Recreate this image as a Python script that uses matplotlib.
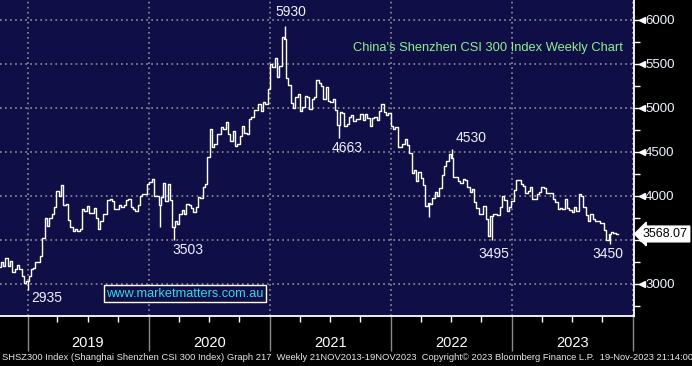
import matplotlib
matplotlib.use("Agg")
import matplotlib.pyplot as plt
import matplotlib.dates as mdates
import matplotlib.transforms as mtransforms
from matplotlib.ticker import MultipleLocator
import pandas as pd

plt.rcParams["font.family"] = ["Liberation Sans", "DejaVu Sans"]

# weekly closes, CSI 300
closes = [
    3440,
    # 2018 Oct-Dec
    3190, 3250, 3200, 3290, 3200, 3260, 3140, 3170, 3210, 3170, 3090, 3010,
    # 2019
    3035, 3095, 3170, 3185,
    3250, 3250, 3320, 3520,
    3750, 3660, 3750, 3800, 3870,
    4060, 4000, 4120, 3900,
    3910, 3730, 3650, 3600, 3630,
    3600, 3630, 3850, 3830,
    3890, 3810, 3810, 3860,
    3750, 3630, 3710, 3800, 3800,
    3950, 3970, 3940, 3850,
    3850, 3900, 3870, 3900,
    3950, 3970, 3880, 3850, 3830,
    3900, 4000, 4020, 4020,
    # 2020
    4140, 4160, 4190, 4000, 4000,
    3900, 3990, 4150, 3940,
    4140, 3950, 3650, 3720,
    3680, 3800, 3840, 3790,
    3910, 3900, 3860, 3820, 3870,
    3990, 3980, 4100, 4140,
    4440, 4760, 4560, 4590, 4700,
    4700, 4780, 4760, 4840,
    4700, 4630, 4740, 4570,
    4590, 4680, 4790, 4720, 4700,
    4880, 4900, 4980, 4980,
    5040, 4960, 5070, 5040,
    # 2021
    5210, 5500, 5460, 5570, 5350,
    5480, 5810, 5780, 5340,
    5260, 5060, 5000, 5130,
    5160, 4970, 5010, 5140, 5120,
    4990, 5100, 5130, 5320,
    5280, 5250, 5100, 5240,
    5080, 5070, 5100, 4980, 4810,
    4950, 4940, 4800, 4820,
    4900, 4920, 4850, 4870,
    4870, 4930, 4860, 4930, 4890,
    4800, 4890, 4900, 4860,
    4960, 5050, 4950, 4920, 4940,
    # 2022
    4800, 4760, 4780, 4560,
    4560, 4590, 4650, 4580,
    4490, 4260, 4300, 4170,
    4270, 4200, 4130, 3890, 3920,
    3910, 3980, 4040, 4000,
    4090, 4240, 4340, 4400,
    4480, 4430, 4220, 4210, 4170,
    4150, 4190, 4180, 4100,
    4050, 4080, 3930, 3860, 3800,
    3800, 3890, 3740, 3540,
    3770, 3790, 3800, 3780,
    3870, 4000, 3950, 3830, 3870,
    # 2023
    3940, 4070, 4180, 4180,
    4140, 4110, 4030, 4060,
    4100, 3970, 3960, 4020, 4050,
    4100, 4090, 4030, 4030,
    4030, 3960, 3930, 3850,
    3860, 3850, 3960, 3860, 3840,
    3820, 3880, 3830, 4020,
    4000, 3880, 3780, 3710,
    3800, 3740, 3710, 3720, 3690,
    3690, 3610, 3500, 3570,
    3590, 3580, 3568.07,
]
weeks = pd.date_range("2018-10-05", "2023-11-17", freq="W-FRI")
assert len(weeks) == len(closes), (len(weeks), len(closes))

# intraweek extremes that stick out of the weekly steps
ext_weeks = ["2019-01-04", "2020-02-07", "2020-03-20", "2021-02-19",
             "2021-07-30", "2022-04-29", "2022-07-08", "2022-11-04", "2023-10-27"]
ext_vals = [2935, 3650, 3503, 5930, 4663, 3760, 4530, 3495, 3450]

labels = ["5930", "4663", "4530", "2935", "3503", "3495", "3450"]
label_dates = ["2021-03-04", "2021-08-22", "2022-08-30", "2019-02-27",
               "2020-04-30", "2022-11-08", "2023-10-18"]
label_vals = [6085, 4540, 4659, 2846, 3386, 3346, 3346]

years = [2019, 2020, 2021, 2022, 2023]
last_price = 3568.07

navy = "#0f0e47"
fig = plt.figure(figsize=(6.92, 3.66), dpi=100, facecolor="black")
ax = fig.add_axes([0, 50 / 366, 634 / 692, 316 / 366])
ax.set_facecolor(navy)

s = pd.Series(closes, index=weeks)
ax.step(weeks, closes, where="pre", color="white", lw=1.0, zorder=3)
ext_idx = pd.to_datetime(ext_weeks)
ax.vlines(ext_idx - pd.Timedelta(days=3), ext_vals, s[ext_idx].values,
          color="white", lw=1.0, zorder=3)

ax.set_xlim(pd.Timestamp("2018-10-10"), pd.Timestamp("2024-01-04"))
ax.set_ylim(2636, 6227)

# axes / spines
for side in ["top", "left"]:
    ax.spines[side].set_visible(False)
for side in ["right", "bottom"]:
    ax.spines[side].set_color("white")
    ax.spines[side].set_linewidth(1.3)

ax.yaxis.tick_right()
ax.yaxis.set_major_locator(MultipleLocator(500))
ax.yaxis.set_minor_locator(MultipleLocator(250))
ax.tick_params(axis="y", which="major", length=5, width=1, color="white",
               labelcolor="#f0f4ff", labelsize=9.5, pad=3)
ax.tick_params(axis="y", which="minor", length=4, width=1, color="white")

ax.xaxis.set_major_locator(mdates.YearLocator())
ax.xaxis.set_minor_locator(mdates.MonthLocator(bymonth=[4, 7, 10]))
ax.xaxis.set_major_formatter(plt.NullFormatter())
ax.tick_params(axis="x", which="major", length=25, width=1, color="#8a8a8a")
ax.tick_params(axis="x", which="minor", length=4, width=1, color="white")

ax.grid(True, which="major", color="#9a9a9a", lw=1.1, linestyle=(0, (1.1, 2.2)))
ax.set_axisbelow(True)

# the 3500 label sits under the last price tag
fig.canvas.draw()
for lab in ax.get_yticklabels():
    if lab.get_text() == "3500":
        lab.set_visible(False)

# triangles on the major y ticks
tri = mtransforms.blended_transform_factory(ax.transAxes, ax.transData) + \
    mtransforms.ScaledTranslation(6 / 72, 0, fig.dpi_scale_trans)
ax.plot([1.0] * 7, [3000, 3500, 4000, 4500, 5000, 5500, 6000], marker="<",
        ms=5, color="white", linestyle="none", transform=tri, clip_on=False)

# year labels between the year lines
xt = mtransforms.blended_transform_factory(ax.transData, ax.transAxes)
for y in years:
    ax.text(pd.Timestamp(f"{y}-07-02"), -0.084, str(y), transform=xt,
            ha="center", va="center", color="white", fontsize=10.5)

# annotations
for t, d, v in zip(labels, label_dates, label_vals):
    ax.text(pd.Timestamp(d), v, t, ha="center", va="center",
            color="#eef2ff", fontsize=10)

ax.text(0.983, 0.848, "China's Shenzhen CSI 300 Index Weekly Chart",
        transform=ax.transAxes, ha="right", va="center",
        color="#8ef08e", fontsize=9.3)

ax.text(0.292, 0.070, "www.marketmatters.com.au", transform=ax.transAxes,
        ha="center", va="center", color="#35d8ea", fontsize=9.2,
        bbox=dict(boxstyle="square,pad=0.2", fc=navy, ec="white", lw=1))

# last price tag
yt = mtransforms.blended_transform_factory(ax.transAxes, ax.transData)
ax.text(1.014, last_price, f"{last_price:.2f}", transform=yt, ha="left",
        va="center", color="black", fontsize=9, clip_on=False, zorder=10,
        bbox=dict(boxstyle="larrow,pad=0.15", fc="white", ec="white"))

fig.text(0.003, 0.022,
         "SHSZ300 Index (Shanghai Shenzhen CSI 300 Index) Graph 217  Weekly 21NOV2013-19NOV2023  "
         "Copyright\u00a9 2023 Bloomberg Finance L.P.  19-Nov-2023 21:14:00",
         ha="left", va="center", color="#e8e8e8", fontsize=6.75)

fig.savefig("out.png", dpi=100, facecolor="black")
